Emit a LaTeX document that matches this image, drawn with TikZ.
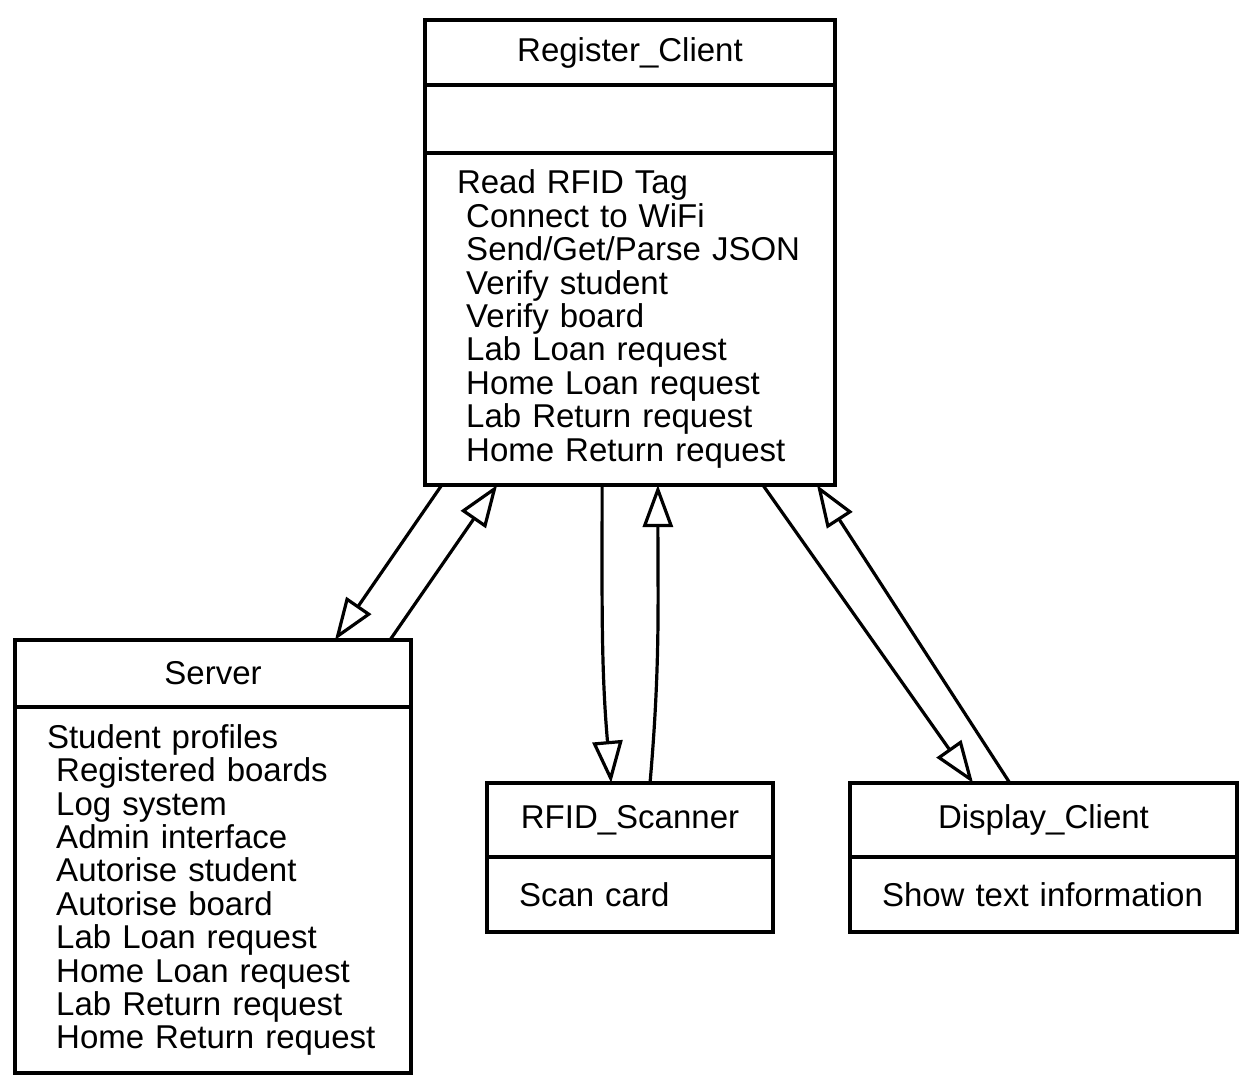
\documentclass[tikz,border=0pt]{standalone}
\usepackage{fontspec}
\setmainfont{Liberation Sans}
\usetikzlibrary{arrows.meta,calc,positioning}

\newcommand{\mpad}{\hspace*{.28em}} % leading blank of a member line

\tikzset{
    part/.style={draw, line width=1.7pt, inner sep=0pt, outer sep=0pt},
    title/.style={part, anchor=north west},
    members/.style={part, align=left, inner xsep=16pt, inner ysep=0pt},
    gen/.style={line width=1.6pt, -{Triangle[open, length=21pt, width=15pt]}}
}

\begin{document}
\begin{tikzpicture}[x=0.5pt, y=-0.5pt, font=\fontsize{16.5}{16.7}\selectfont]
        \useasboundingbox (0,0) rectangle (1253,1092);

        % Register_Client
        \node[title, minimum width=205pt, minimum height=32.5pt] (regt) at (425,20) {Register\_Client};
        \node[part, below=0pt of regt, minimum width=205pt, minimum height=34pt] (rega) {};
        \node[members, below=0pt of rega, text width=173pt, minimum height=166pt] (regm)
            {Read RFID Tag\\ \mpad Connect to WiFi\\ \mpad Send/Get/Parse JSON\\ \mpad Verify student\\
             \mpad Verify board\\ \mpad Lab Loan request\\ \mpad Home Loan request\\
             \mpad Lab Return request\\ \mpad Home Return request};

        % Server
        \node[title, minimum width=198pt, minimum height=33.5pt] (srvt) at (15,640) {Server};
        \node[members, below=0pt of srvt, text width=166pt, minimum height=183pt] (srvm)
            {Student profiles\\ \mpad Registered boards\\ \mpad Log system\\ \mpad Admin interface\\
             \mpad Autorise student\\ \mpad Autorise board\\ \mpad Lab Loan request\\
             \mpad Home Loan request\\ \mpad Lab Return request\\ \mpad Home Return request};

        % RFID_Scanner
        \node[title, minimum width=143pt, minimum height=37pt] (rfidt) at (487,783) {RFID\_Scanner};
        \node[members, below=0pt of rfidt, text width=111pt, minimum height=37.5pt] (rfidm) {Scan card};

        % Display_Client
        \node[title, minimum width=193.5pt, minimum height=37pt] (dispt) at (850,783) {Display\_Client};
        \node[members, below=0pt of dispt, text width=161.5pt, minimum height=37.5pt] (dispm) {Show text information};

        % connectors
        \draw[gen] ($(regm.south west)!0.041!(regm.south east)$) -- ($(srvt.north west)!0.808!(srvt.north east)$);
        \draw[gen] ($(srvt.north west)!0.947!(srvt.north east)$) -- ($(regm.south west)!0.176!(regm.south east)$);
        \draw[gen] ($(regm.south west)!0.432!(regm.south east)$) to[out=-90, in=95] ($(rfidt.north west)!0.434!(rfidt.north east)$);
        \draw[gen] ($(rfidt.north west)!0.570!(rfidt.north east)$) to[out=85, in=-90] ($(regm.south west)!0.568!(regm.south east)$);
        \draw[gen] ($(regm.south west)!0.824!(regm.south east)$) -- ($(dispt.north west)!0.318!(dispt.north east)$);
        \draw[gen] ($(dispt.north west)!0.413!(dispt.north east)$) -- ($(regm.south west)!0.956!(regm.south east)$);
    \end{tikzpicture}
\end{document}
